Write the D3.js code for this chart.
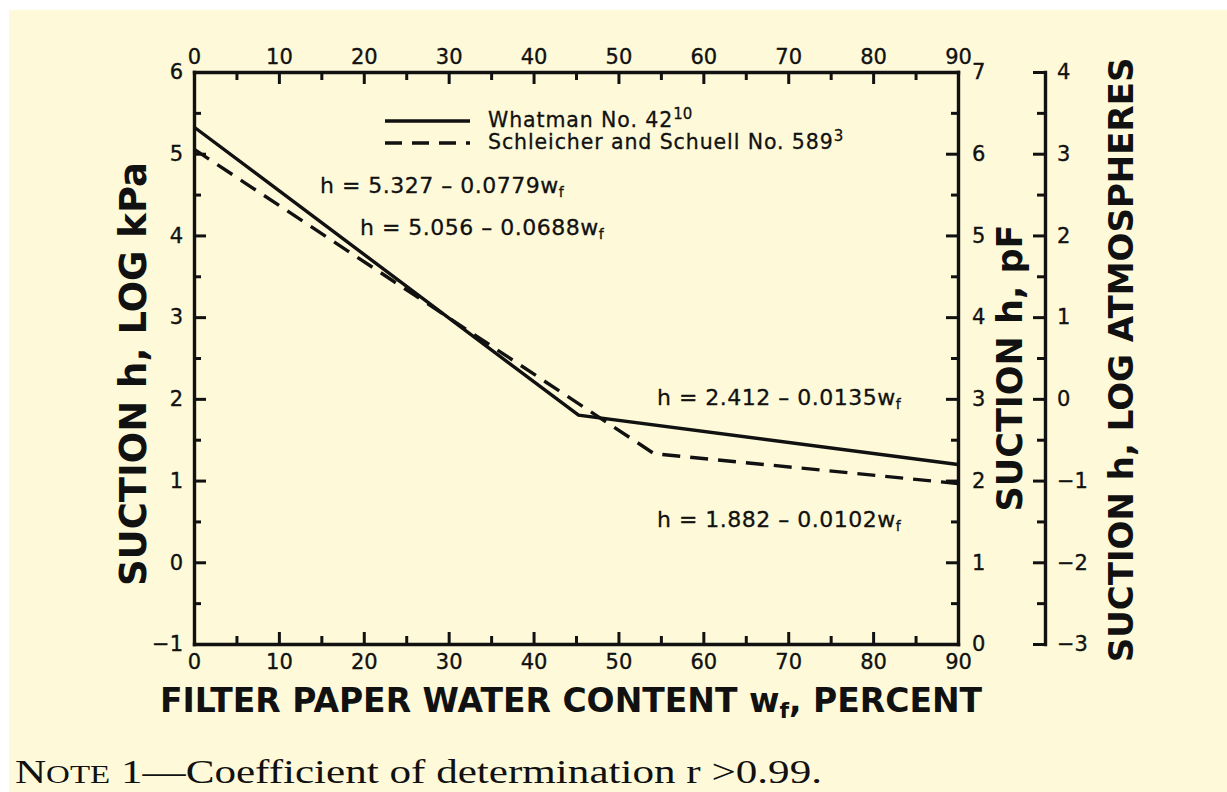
<!DOCTYPE html>
<html><head><meta charset="utf-8">
<script src="https://cdn.jsdelivr.net/npm/d3@7"></script>
<style>html,body{margin:0;padding:0;background:#fff;} svg{display:block;}</style>
</head><body>
<svg id="chart" width="1227" height="792"></svg>
<script>
// ---- data ----
const whatmanW = [0, 45.3, 90];
const whatmanH = [5.327, 1.80, 1.197];
const schleicherW = [0, 54.2, 90];
const schleicherH = [5.056, 1.329, 0.964];
const seriesNames = ["Whatman No. 42", "Schleicher and Schuell No. 589"];
const seriesRefs = ["10", "3"];
const equations = ["h = 5.327 \u2013 0.0779w", "h = 5.056 \u2013 0.0688w", "h = 2.412 \u2013 0.0135w", "h = 1.882 \u2013 0.0102w"];
const xTickValues = [0, 10, 20, 30, 40, 50, 60, 70, 80, 90];
const kPaTickValues = [-1, 0, 1, 2, 3, 4, 5, 6];
const pFTickValues = [0, 1, 2, 3, 4, 5, 6, 7];
const atmTickValues = [-3, -2, -1, 0, 1, 2, 3, 4];
const xTitle = ["FILTER PAPER WATER CONTENT w", "f", ", PERCENT"];
const kPaTitle = "SUCTION h, LOG kPa";
const pFTitle = "SUCTION h, pF";
const atmTitle = "SUCTION h, LOG ATMOSPHERES";
const noteParts = ["N", "OTE", " 1\u2014Coefficient of determination r >0.99."];

// ---- layout ----
const svg = d3.select("#chart");
const INK = "#111";
const FONT = "'DejaVu Sans', Verdana, sans-serif";
svg.append("rect").attr("width", 1227).attr("height", 792).attr("fill", "#fff");
svg.append("rect").attr("x", 9).attr("y", 10).attr("width", 1218).attr("height", 782).attr("fill", "#fefad9");

const pLeft = 194, pRight = 958, pTop = 72, pBottom = 644, atmX = 1045;
const x = d3.scaleLinear().domain([0, 90]).range([pLeft, pRight]);
const yKpa = d3.scaleLinear().domain([-1, 6]).range([pBottom, pTop]);
const yPF = d3.scaleLinear().domain([0, 7]).range([pBottom, pTop]);
const yAtm = d3.scaleLinear().domain([-3, 4]).range([pBottom, pTop]);
const minus = d => d3.format("d")(d).replace("-", "\u2212");
const halves = (dom, step) => d3.range(dom[0] + step / 2, dom[1], step);

function styleAxis(g) {
  g.selectAll("path.domain").attr("stroke", INK).attr("stroke-width", 3.4).attr("stroke-linecap", "square");
  g.selectAll(".tick line").attr("stroke", INK).attr("stroke-width", 3);
  g.selectAll(".tick text").attr("fill", INK).attr("font-family", FONT).attr("font-size", 21)
    .attr("stroke", INK).attr("stroke-width", 0.35);
}
function minor(g) { g.select("path.domain").remove(); g.selectAll(".tick line").attr("stroke", INK).attr("stroke-width", 3); }

// top
svg.append("g").attr("transform", `translate(0,${pTop})`)
  .call(d3.axisTop(x).tickValues(xTickValues).tickSizeInner(-12).tickSizeOuter(0).tickPadding(8).tickFormat(d3.format("d")))
  .call(styleAxis);
svg.append("g").attr("transform", `translate(0,${pTop})`)
  .call(d3.axisTop(x).tickValues(d3.range(5, 90, 10)).tickSize(-8).tickFormat("")).call(minor);
// bottom
svg.append("g").attr("transform", `translate(0,${pBottom})`)
  .call(d3.axisBottom(x).tickValues(xTickValues).tickSizeInner(-12).tickSizeOuter(0).tickPadding(10).tickFormat(d3.format("d")))
  .call(styleAxis);
svg.append("g").attr("transform", `translate(0,${pBottom})`)
  .call(d3.axisBottom(x).tickValues(d3.range(5, 90, 10)).tickSize(-8).tickFormat("")).call(minor);
// left kPa
svg.append("g").attr("transform", `translate(${pLeft},0)`)
  .call(d3.axisLeft(yKpa).tickValues(kPaTickValues).tickSizeInner(-12).tickSizeOuter(0).tickPadding(11).tickFormat(minus))
  .call(styleAxis);
svg.append("g").attr("transform", `translate(${pLeft},0)`)
  .call(d3.axisLeft(yKpa).tickValues(halves([-1, 6], 1)).tickSize(-7).tickFormat("")).call(minor);
// right pF
svg.append("g").attr("transform", `translate(${pRight},0)`)
  .call(d3.axisRight(yPF).tickValues(pFTickValues).tickSizeInner(-12).tickSizeOuter(0).tickPadding(14).tickFormat(minus))
  .call(styleAxis);
svg.append("g").attr("transform", `translate(${pRight},0)`)
  .call(d3.axisRight(yPF).tickValues(halves([0, 7], 1)).tickSize(-7).tickFormat("")).call(minor);
// atm
svg.append("g").attr("transform", `translate(${atmX},0)`)
  .call(d3.axisRight(yAtm).tickValues(atmTickValues).tickSizeInner(-12).tickSizeOuter(0).tickPadding(12).tickFormat(minus))
  .call(styleAxis);
svg.append("g").attr("transform", `translate(${atmX},0)`)
  .call(d3.axisRight(yAtm).tickValues(halves([-3, 4], 1)).tickSize(-8).tickFormat("")).call(minor);

// lines
const line = d3.line().x(d => x(d[0])).y(d => yKpa(d[1]));
svg.append("path").datum(d3.zip(whatmanW, whatmanH)).attr("d", line)
  .attr("fill", "none").attr("stroke", INK).attr("stroke-width", 3.4);
svg.append("path").datum(d3.zip(schleicherW, schleicherH)).attr("d", line)
  .attr("fill", "none").attr("stroke", INK).attr("stroke-width", 3.4).attr("stroke-dasharray", "18,10");

// legend
const legY = [121, 143];
seriesNames.forEach((name, i) => {
  svg.append("line").attr("x1", 385).attr("x2", 470).attr("y1", legY[i]).attr("y2", legY[i])
    .attr("stroke", INK).attr("stroke-width", 3.4).attr("stroke-dasharray", i ? "17,10" : null);
  const t = svg.append("text").attr("x", 488).attr("y", legY[i] + 6).attr("font-family", FONT)
    .attr("font-size", 20.5).attr("letter-spacing", 0.9).attr("fill", INK)
    .attr("stroke", INK).attr("stroke-width", 0.3);
  t.append("tspan").text(name);
  t.append("tspan").attr("dy", -8).attr("font-size", 15).attr("letter-spacing", 0).text(seriesRefs[i]);
});

// equations
const eqPos = [[320, 193], [360, 235], [657, 405], [657, 527]];
equations.forEach((e, i) => {
  const t = svg.append("text").attr("x", eqPos[i][0]).attr("y", eqPos[i][1]).attr("font-family", FONT)
    .attr("font-size", 22).attr("letter-spacing", 0.5).attr("fill", INK)
    .attr("stroke", INK).attr("stroke-width", 0.3);
  t.append("tspan").text(e);
  t.append("tspan").attr("dy", 4).attr("font-size", 14).text("f");
});

// axis titles
const xt = svg.append("text").attr("x", 571).attr("y", 712).attr("text-anchor", "middle")
  .attr("font-family", FONT).attr("font-weight", "bold").attr("font-size", 33).attr("fill", INK);
xt.append("tspan").text(xTitle[0]);
xt.append("tspan").attr("dy", 6).attr("font-size", 22).text(xTitle[1]);
xt.append("tspan").attr("dy", -6).text(xTitle[2]);

function vTitle(text, bx, cy, size) {
  svg.append("text").attr("transform", `translate(${bx},${cy}) rotate(-90)`).attr("text-anchor", "middle")
    .attr("font-family", FONT).attr("font-weight", "bold").attr("font-size", size).attr("fill", INK).text(text);
}
vTitle(kPaTitle, 146, 374, 37);
vTitle(pFTitle, 1022, 368, 35);
vTitle(atmTitle, 1133, 360, 34);

// note
const nt = svg.append("text").attr("x", 15).attr("y", 783).attr("font-family", "'Liberation Serif', 'Times New Roman', serif")
  .attr("font-size", 34).attr("fill", INK).attr("textLength", 807).attr("lengthAdjust", "spacingAndGlyphs");
nt.append("tspan").text(noteParts[0]);
nt.append("tspan").attr("font-size", 26).text(noteParts[1]);
nt.append("tspan").text(noteParts[2]);
</script>
</body></html>
